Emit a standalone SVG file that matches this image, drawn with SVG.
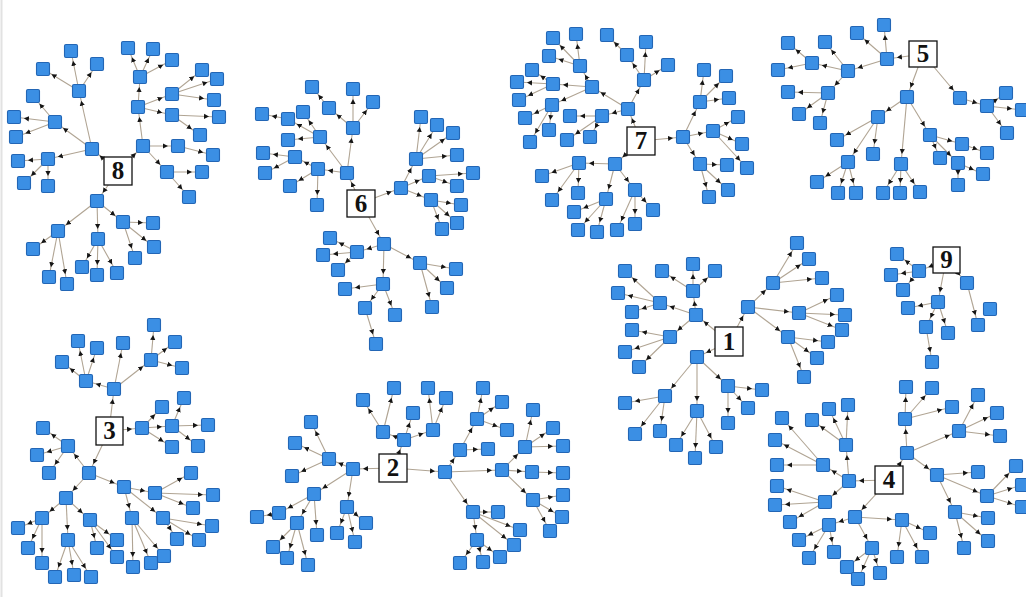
<svg xmlns="http://www.w3.org/2000/svg" xmlns:xlink="http://www.w3.org/1999/xlink" width="1026" height="597" viewBox="0 0 1026 597">
<style>
#connectors path{fill:none;stroke:#b0a493;stroke-width:1.1;marker-end:url(#ah)}
.lb{fill:#fff;stroke:#111;stroke-width:1.3}
.lt{font-family:"Liberation Serif",serif;font-weight:bold;font-size:25px;text-anchor:middle;fill:#111}
</style>
<defs>
<rect id="sq" x="-6.5" y="-6.5" width="13" height="13" rx="1.5" fill="#3b8fe4" stroke="#2366b5" stroke-width="1.1"/>
<marker id="ah" markerUnits="userSpaceOnUse" viewBox="0 -3 15 6" refX="15" refY="0" markerWidth="15" markerHeight="6" orient="auto"><path d="M0,-2.6L5,0L0,2.6z" fill="#151515"/></marker>
</defs>
<rect width="1026" height="597" fill="#fff"/>
<line x1="1.5" y1="0" x2="1.5" y2="597" stroke="#e2e2e2" stroke-width="2"/>
<g id="connectors">
<path d="M118 171L92 149"/><path d="M118 171L143 146"/><path d="M118 171L97 201"/><path d="M92 149L79 91"/><path d="M79 91L71 51"/><path d="M79 91L43 69"/><path d="M79 91L97 64"/><path d="M92 149L55 122"/><path d="M55 122L33 96"/><path d="M55 122L14 117"/><path d="M55 122L16 137"/><path d="M92 149L48 159"/><path d="M48 159L18 161"/><path d="M48 159L24 183"/><path d="M48 159L48 186"/><path d="M143 146L138 107"/><path d="M138 107L140 77"/><path d="M140 77L128 48"/><path d="M140 77L153 49"/><path d="M140 77L172 60"/><path d="M138 107L172 94"/><path d="M172 94L202 70"/><path d="M172 94L217 79"/><path d="M172 94L214 100"/><path d="M138 107L172 115"/><path d="M172 115L219 117"/><path d="M172 115L200 135"/><path d="M143 146L178 146"/><path d="M178 146L213 155"/><path d="M143 146L167 172"/><path d="M167 172L202 172"/><path d="M167 172L189 197"/><path d="M97 201L58 231"/><path d="M58 231L33 249"/><path d="M58 231L49 277"/><path d="M58 231L67 284"/><path d="M97 201L98 239"/><path d="M98 239L82 267"/><path d="M98 239L97 275"/><path d="M98 239L117 273"/><path d="M97 201L123 222"/><path d="M123 222L153 223"/><path d="M123 222L154 247"/><path d="M123 222L135 258"/>
<path d="M361 203L347 173"/><path d="M347 173L353 128"/><path d="M353 128L353 89"/><path d="M353 128L373 102"/><path d="M353 128L329 108"/><path d="M329 108L312 87"/><path d="M347 173L318 169"/><path d="M318 169L295 157"/><path d="M295 157L263 153"/><path d="M295 157L265 173"/><path d="M318 169L290 186"/><path d="M318 169L317 205"/><path d="M347 173L320 137"/><path d="M320 137L288 119"/><path d="M288 119L262 114"/><path d="M320 137L303 112"/><path d="M320 137L288 140"/><path d="M361 203L401 188"/><path d="M401 188L416 159"/><path d="M416 159L421 117"/><path d="M416 159L437 125"/><path d="M416 159L453 133"/><path d="M416 159L457 155"/><path d="M401 188L429 176"/><path d="M429 176L473 173"/><path d="M429 176L457 186"/><path d="M401 188L431 200"/><path d="M431 200L461 205"/><path d="M431 200L457 223"/><path d="M431 200L442 229"/><path d="M361 203L384 244"/><path d="M384 244L357 252"/><path d="M357 252L330 238"/><path d="M357 252L323 255"/><path d="M357 252L338 270"/><path d="M384 244L383 284"/><path d="M383 284L345 289"/><path d="M383 284L365 308"/><path d="M365 308L376 344"/><path d="M383 284L395 315"/><path d="M384 244L420 263"/><path d="M420 263L456 269"/><path d="M420 263L447 288"/><path d="M420 263L432 307"/>
<path d="M641 141L628 109"/><path d="M628 109L644 80"/><path d="M644 80L627 55"/><path d="M627 55L607 35"/><path d="M644 80L646 42"/><path d="M644 80L668 65"/><path d="M628 109L602 116"/><path d="M602 116L570 116"/><path d="M602 116L567 140"/><path d="M602 116L590 137"/><path d="M628 109L592 87"/><path d="M592 87L580 66"/><path d="M580 66L553 38"/><path d="M580 66L576 34"/><path d="M580 66L549 56"/><path d="M592 87L553 84"/><path d="M553 84L532 70"/><path d="M553 84L517 82"/><path d="M553 84L519 100"/><path d="M592 87L552 105"/><path d="M552 105L525 118"/><path d="M552 105L549 130"/><path d="M552 105L530 142"/><path d="M641 141L683 137"/><path d="M683 137L700 102"/><path d="M700 102L704 70"/><path d="M700 102L726 76"/><path d="M700 102L729 98"/><path d="M683 137L713 131"/><path d="M713 131L738 117"/><path d="M713 131L742 144"/><path d="M713 131L747 168"/><path d="M683 137L700 164"/><path d="M700 164L727 165"/><path d="M700 164L728 190"/><path d="M700 164L709 197"/><path d="M641 141L615 164"/><path d="M615 164L579 163"/><path d="M579 163L542 176"/><path d="M579 163L552 200"/><path d="M579 163L578 193"/><path d="M615 164L606 199"/><path d="M606 199L574 212"/><path d="M606 199L578 230"/><path d="M606 199L597 232"/><path d="M615 164L635 190"/><path d="M635 190L653 210"/><path d="M635 190L635 224"/><path d="M635 190L617 230"/>
<path d="M923 54L887 59"/><path d="M887 59L857 33"/><path d="M887 59L884 25"/><path d="M887 59L848 71"/><path d="M848 71L812 63"/><path d="M812 63L788 43"/><path d="M812 63L778 70"/><path d="M848 71L825 42"/><path d="M848 71L828 93"/><path d="M828 93L788 92"/><path d="M828 93L799 114"/><path d="M828 93L820 123"/><path d="M923 54L907 97"/><path d="M907 97L878 117"/><path d="M878 117L837 140"/><path d="M878 117L873 154"/><path d="M878 117L848 162"/><path d="M848 162L817 182"/><path d="M848 162L838 193"/><path d="M848 162L856 193"/><path d="M907 97L901 164"/><path d="M901 164L883 193"/><path d="M901 164L900 193"/><path d="M901 164L920 192"/><path d="M907 97L930 135"/><path d="M930 135L962 144"/><path d="M962 144L987 153"/><path d="M930 135L940 158"/><path d="M930 135L958 163"/><path d="M958 163L983 174"/><path d="M958 163L958 185"/><path d="M923 54L960 98"/><path d="M960 98L987 106"/><path d="M987 106L1006 93"/><path d="M987 106L1022 110"/><path d="M987 106L1007 133"/>
<path d="M729 342L696 315"/><path d="M696 315L693 291"/><path d="M693 291L662 271"/><path d="M693 291L693 264"/><path d="M693 291L715 271"/><path d="M696 315L660 303"/><path d="M660 303L625 271"/><path d="M660 303L618 293"/><path d="M660 303L632 312"/><path d="M696 315L670 337"/><path d="M670 337L632 330"/><path d="M670 337L625 352"/><path d="M670 337L639 367"/><path d="M729 342L748 307"/><path d="M748 307L773 283"/><path d="M773 283L797 243"/><path d="M773 283L809 259"/><path d="M773 283L822 278"/><path d="M748 307L799 313"/><path d="M799 313L837 295"/><path d="M799 313L845 315"/><path d="M799 313L842 330"/><path d="M748 307L788 337"/><path d="M788 337L828 342"/><path d="M788 337L817 358"/><path d="M788 337L804 377"/><path d="M729 342L697 357"/><path d="M697 357L665 396"/><path d="M665 396L625 403"/><path d="M665 396L635 434"/><path d="M665 396L660 431"/><path d="M697 357L697 411"/><path d="M697 411L676 445"/><path d="M697 411L695 458"/><path d="M697 411L716 447"/><path d="M697 357L728 386"/><path d="M728 386L762 390"/><path d="M728 386L748 408"/><path d="M728 386L728 423"/>
<path d="M946 260L919 271"/><path d="M919 271L897 254"/><path d="M919 271L891 275"/><path d="M919 271L903 290"/><path d="M946 260L938 302"/><path d="M938 302L908 308"/><path d="M938 302L926 327"/><path d="M926 327L932 362"/><path d="M938 302L948 333"/><path d="M946 260L967 283"/><path d="M967 283L978 325"/>
<path d="M109 431L114 389"/><path d="M114 389L86 381"/><path d="M86 381L62 362"/><path d="M86 381L78 341"/><path d="M86 381L97 348"/><path d="M114 389L123 343"/><path d="M114 389L151 360"/><path d="M151 360L154 325"/><path d="M151 360L175 342"/><path d="M151 360L182 368"/><path d="M109 431L142 428"/><path d="M142 428L162 407"/><path d="M142 428L172 447"/><path d="M142 428L172 426"/><path d="M172 426L184 398"/><path d="M172 426L208 425"/><path d="M172 426L198 446"/><path d="M109 431L89 473"/><path d="M89 473L68 446"/><path d="M68 446L43 428"/><path d="M68 446L37 455"/><path d="M68 446L49 473"/><path d="M89 473L66 498"/><path d="M66 498L42 518"/><path d="M42 518L18 528"/><path d="M42 518L28 548"/><path d="M42 518L42 563"/><path d="M66 498L68 540"/><path d="M68 540L55 577"/><path d="M68 540L74 575"/><path d="M68 540L91 577"/><path d="M66 498L90 520"/><path d="M90 520L97 548"/><path d="M90 520L117 540"/><path d="M90 520L117 557"/><path d="M89 473L124 487"/><path d="M124 487L155 493"/><path d="M155 493L191 473"/><path d="M155 493L213 495"/><path d="M155 493L193 508"/><path d="M124 487L132 518"/><path d="M132 518L133 567"/><path d="M132 518L151 563"/><path d="M132 518L164 556"/><path d="M124 487L163 518"/><path d="M163 518L177 539"/><path d="M163 518L199 540"/><path d="M163 518L212 526"/>
<path d="M393 468L353 469"/><path d="M353 469L329 459"/><path d="M329 459L311 422"/><path d="M329 459L295 443"/><path d="M329 459L292 476"/><path d="M353 469L314 494"/><path d="M314 494L279 513"/><path d="M279 513L257 517"/><path d="M314 494L297 523"/><path d="M297 523L273 547"/><path d="M297 523L287 558"/><path d="M297 523L308 565"/><path d="M314 494L317 535"/><path d="M353 469L347 507"/><path d="M347 507L337 533"/><path d="M347 507L355 542"/><path d="M347 507L366 523"/><path d="M393 468L404 440"/><path d="M404 440L383 432"/><path d="M383 432L363 400"/><path d="M383 432L394 388"/><path d="M404 440L413 413"/><path d="M404 440L433 430"/><path d="M433 430L428 388"/><path d="M433 430L446 398"/><path d="M393 468L445 472"/><path d="M445 472L460 450"/><path d="M460 450L477 419"/><path d="M477 419L483 388"/><path d="M477 419L502 402"/><path d="M477 419L507 430"/><path d="M460 450L488 449"/><path d="M445 472L502 470"/><path d="M502 470L525 447"/><path d="M525 447L533 410"/><path d="M525 447L553 428"/><path d="M525 447L563 446"/><path d="M502 470L532 472"/><path d="M532 472L563 473"/><path d="M502 470L533 500"/><path d="M533 500L563 495"/><path d="M533 500L562 517"/><path d="M533 500L550 531"/><path d="M445 472L473 512"/><path d="M473 512L498 512"/><path d="M473 512L520 530"/><path d="M473 512L514 545"/><path d="M473 512L477 540"/><path d="M477 540L460 563"/><path d="M477 540L483 562"/><path d="M477 540L500 557"/>
<path d="M889 480L907 453"/><path d="M907 453L905 419"/><path d="M905 419L906 387"/><path d="M905 419L932 388"/><path d="M905 419L952 407"/><path d="M907 453L959 431"/><path d="M959 431L978 395"/><path d="M959 431L997 413"/><path d="M959 431L1000 436"/><path d="M907 453L937 475"/><path d="M937 475L978 472"/><path d="M937 475L987 496"/><path d="M987 496L1016 466"/><path d="M987 496L1022 485"/><path d="M987 496L1022 507"/><path d="M937 475L955 512"/><path d="M955 512L988 518"/><path d="M955 512L988 541"/><path d="M955 512L964 548"/><path d="M889 480L849 481"/><path d="M849 481L846 445"/><path d="M846 445L829 409"/><path d="M846 445L848 405"/><path d="M846 445L812 420"/><path d="M849 481L823 465"/><path d="M823 465L782 418"/><path d="M823 465L775 440"/><path d="M823 465L777 465"/><path d="M849 481L825 502"/><path d="M825 502L777 486"/><path d="M825 502L775 505"/><path d="M825 502L790 522"/><path d="M889 480L855 517"/><path d="M855 517L829 525"/><path d="M829 525L799 540"/><path d="M829 525L809 558"/><path d="M829 525L834 552"/><path d="M855 517L872 548"/><path d="M872 548L847 567"/><path d="M872 548L858 579"/><path d="M872 548L880 573"/><path d="M855 517L902 520"/><path d="M902 520L930 533"/><path d="M902 520L922 557"/><path d="M902 520L897 557"/>
</g>
<g id="cluster8">
<g id="n8_01"><use href="#sq" x="92" y="149"/></g><g id="n8_02"><use href="#sq" x="143" y="146"/></g><g id="n8_03"><use href="#sq" x="97" y="201"/></g><g id="n8_04"><use href="#sq" x="79" y="91"/></g><g id="n8_05"><use href="#sq" x="71" y="51"/></g><g id="n8_06"><use href="#sq" x="43" y="69"/></g><g id="n8_07"><use href="#sq" x="97" y="64"/></g><g id="n8_08"><use href="#sq" x="55" y="122"/></g><g id="n8_09"><use href="#sq" x="33" y="96"/></g><g id="n8_10"><use href="#sq" x="14" y="117"/></g><g id="n8_11"><use href="#sq" x="16" y="137"/></g><g id="n8_12"><use href="#sq" x="48" y="159"/></g><g id="n8_13"><use href="#sq" x="18" y="161"/></g><g id="n8_14"><use href="#sq" x="24" y="183"/></g><g id="n8_15"><use href="#sq" x="48" y="186"/></g><g id="n8_16"><use href="#sq" x="138" y="107"/></g><g id="n8_17"><use href="#sq" x="140" y="77"/></g><g id="n8_18"><use href="#sq" x="128" y="48"/></g><g id="n8_19"><use href="#sq" x="153" y="49"/></g><g id="n8_20"><use href="#sq" x="172" y="60"/></g><g id="n8_21"><use href="#sq" x="172" y="94"/></g><g id="n8_22"><use href="#sq" x="202" y="70"/></g><g id="n8_23"><use href="#sq" x="217" y="79"/></g><g id="n8_24"><use href="#sq" x="214" y="100"/></g><g id="n8_25"><use href="#sq" x="172" y="115"/></g><g id="n8_26"><use href="#sq" x="219" y="117"/></g><g id="n8_27"><use href="#sq" x="200" y="135"/></g><g id="n8_28"><use href="#sq" x="178" y="146"/></g><g id="n8_29"><use href="#sq" x="213" y="155"/></g><g id="n8_30"><use href="#sq" x="167" y="172"/></g><g id="n8_31"><use href="#sq" x="202" y="172"/></g><g id="n8_32"><use href="#sq" x="189" y="197"/></g><g id="n8_33"><use href="#sq" x="58" y="231"/></g><g id="n8_34"><use href="#sq" x="33" y="249"/></g><g id="n8_35"><use href="#sq" x="49" y="277"/></g><g id="n8_36"><use href="#sq" x="67" y="284"/></g><g id="n8_37"><use href="#sq" x="98" y="239"/></g><g id="n8_38"><use href="#sq" x="82" y="267"/></g><g id="n8_39"><use href="#sq" x="97" y="275"/></g><g id="n8_40"><use href="#sq" x="117" y="273"/></g><g id="n8_41"><use href="#sq" x="123" y="222"/></g><g id="n8_42"><use href="#sq" x="153" y="223"/></g><g id="n8_43"><use href="#sq" x="154" y="247"/></g><g id="n8_44"><use href="#sq" x="135" y="258"/></g>
<g id="root8"><rect class="lb" x="104" y="157" width="28" height="28"/><text class="lt" x="118" y="179">8</text></g>
</g>
<g id="cluster6">
<g id="n6_01"><use href="#sq" x="347" y="173"/></g><g id="n6_02"><use href="#sq" x="353" y="128"/></g><g id="n6_03"><use href="#sq" x="353" y="89"/></g><g id="n6_04"><use href="#sq" x="373" y="102"/></g><g id="n6_05"><use href="#sq" x="329" y="108"/></g><g id="n6_06"><use href="#sq" x="312" y="87"/></g><g id="n6_07"><use href="#sq" x="318" y="169"/></g><g id="n6_08"><use href="#sq" x="295" y="157"/></g><g id="n6_09"><use href="#sq" x="263" y="153"/></g><g id="n6_10"><use href="#sq" x="265" y="173"/></g><g id="n6_11"><use href="#sq" x="290" y="186"/></g><g id="n6_12"><use href="#sq" x="317" y="205"/></g><g id="n6_13"><use href="#sq" x="320" y="137"/></g><g id="n6_14"><use href="#sq" x="288" y="119"/></g><g id="n6_15"><use href="#sq" x="262" y="114"/></g><g id="n6_16"><use href="#sq" x="303" y="112"/></g><g id="n6_17"><use href="#sq" x="288" y="140"/></g><g id="n6_18"><use href="#sq" x="401" y="188"/></g><g id="n6_19"><use href="#sq" x="416" y="159"/></g><g id="n6_20"><use href="#sq" x="421" y="117"/></g><g id="n6_21"><use href="#sq" x="437" y="125"/></g><g id="n6_22"><use href="#sq" x="453" y="133"/></g><g id="n6_23"><use href="#sq" x="457" y="155"/></g><g id="n6_24"><use href="#sq" x="429" y="176"/></g><g id="n6_25"><use href="#sq" x="473" y="173"/></g><g id="n6_26"><use href="#sq" x="457" y="186"/></g><g id="n6_27"><use href="#sq" x="431" y="200"/></g><g id="n6_28"><use href="#sq" x="461" y="205"/></g><g id="n6_29"><use href="#sq" x="457" y="223"/></g><g id="n6_30"><use href="#sq" x="442" y="229"/></g><g id="n6_31"><use href="#sq" x="384" y="244"/></g><g id="n6_32"><use href="#sq" x="357" y="252"/></g><g id="n6_33"><use href="#sq" x="330" y="238"/></g><g id="n6_34"><use href="#sq" x="323" y="255"/></g><g id="n6_35"><use href="#sq" x="338" y="270"/></g><g id="n6_36"><use href="#sq" x="383" y="284"/></g><g id="n6_37"><use href="#sq" x="345" y="289"/></g><g id="n6_38"><use href="#sq" x="365" y="308"/></g><g id="n6_39"><use href="#sq" x="376" y="344"/></g><g id="n6_40"><use href="#sq" x="395" y="315"/></g><g id="n6_41"><use href="#sq" x="420" y="263"/></g><g id="n6_42"><use href="#sq" x="456" y="269"/></g><g id="n6_43"><use href="#sq" x="447" y="288"/></g><g id="n6_44"><use href="#sq" x="432" y="307"/></g>
<g id="root6"><rect class="lb" x="347" y="190" width="28" height="27"/><text class="lt" x="361" y="212">6</text></g>
</g>
<g id="cluster7">
<g id="n7_01"><use href="#sq" x="628" y="109"/></g><g id="n7_02"><use href="#sq" x="644" y="80"/></g><g id="n7_03"><use href="#sq" x="627" y="55"/></g><g id="n7_04"><use href="#sq" x="607" y="35"/></g><g id="n7_05"><use href="#sq" x="646" y="42"/></g><g id="n7_06"><use href="#sq" x="668" y="65"/></g><g id="n7_07"><use href="#sq" x="602" y="116"/></g><g id="n7_08"><use href="#sq" x="570" y="116"/></g><g id="n7_09"><use href="#sq" x="567" y="140"/></g><g id="n7_10"><use href="#sq" x="590" y="137"/></g><g id="n7_11"><use href="#sq" x="592" y="87"/></g><g id="n7_12"><use href="#sq" x="580" y="66"/></g><g id="n7_13"><use href="#sq" x="553" y="38"/></g><g id="n7_14"><use href="#sq" x="576" y="34"/></g><g id="n7_15"><use href="#sq" x="549" y="56"/></g><g id="n7_16"><use href="#sq" x="553" y="84"/></g><g id="n7_17"><use href="#sq" x="532" y="70"/></g><g id="n7_18"><use href="#sq" x="517" y="82"/></g><g id="n7_19"><use href="#sq" x="519" y="100"/></g><g id="n7_20"><use href="#sq" x="552" y="105"/></g><g id="n7_21"><use href="#sq" x="525" y="118"/></g><g id="n7_22"><use href="#sq" x="549" y="130"/></g><g id="n7_23"><use href="#sq" x="530" y="142"/></g><g id="n7_24"><use href="#sq" x="683" y="137"/></g><g id="n7_25"><use href="#sq" x="700" y="102"/></g><g id="n7_26"><use href="#sq" x="704" y="70"/></g><g id="n7_27"><use href="#sq" x="726" y="76"/></g><g id="n7_28"><use href="#sq" x="729" y="98"/></g><g id="n7_29"><use href="#sq" x="713" y="131"/></g><g id="n7_30"><use href="#sq" x="738" y="117"/></g><g id="n7_31"><use href="#sq" x="742" y="144"/></g><g id="n7_32"><use href="#sq" x="747" y="168"/></g><g id="n7_33"><use href="#sq" x="700" y="164"/></g><g id="n7_34"><use href="#sq" x="727" y="165"/></g><g id="n7_35"><use href="#sq" x="728" y="190"/></g><g id="n7_36"><use href="#sq" x="709" y="197"/></g><g id="n7_37"><use href="#sq" x="615" y="164"/></g><g id="n7_38"><use href="#sq" x="579" y="163"/></g><g id="n7_39"><use href="#sq" x="542" y="176"/></g><g id="n7_40"><use href="#sq" x="552" y="200"/></g><g id="n7_41"><use href="#sq" x="578" y="193"/></g><g id="n7_42"><use href="#sq" x="606" y="199"/></g><g id="n7_43"><use href="#sq" x="574" y="212"/></g><g id="n7_44"><use href="#sq" x="578" y="230"/></g><g id="n7_45"><use href="#sq" x="597" y="232"/></g><g id="n7_46"><use href="#sq" x="635" y="190"/></g><g id="n7_47"><use href="#sq" x="653" y="210"/></g><g id="n7_48"><use href="#sq" x="635" y="224"/></g><g id="n7_49"><use href="#sq" x="617" y="230"/></g>
<g id="root7"><rect class="lb" x="627" y="127" width="28" height="28"/><text class="lt" x="641" y="149">7</text></g>
</g>
<g id="cluster5">
<g id="n5_01"><use href="#sq" x="887" y="59"/></g><g id="n5_02"><use href="#sq" x="857" y="33"/></g><g id="n5_03"><use href="#sq" x="884" y="25"/></g><g id="n5_04"><use href="#sq" x="848" y="71"/></g><g id="n5_05"><use href="#sq" x="812" y="63"/></g><g id="n5_06"><use href="#sq" x="788" y="43"/></g><g id="n5_07"><use href="#sq" x="778" y="70"/></g><g id="n5_08"><use href="#sq" x="825" y="42"/></g><g id="n5_09"><use href="#sq" x="828" y="93"/></g><g id="n5_10"><use href="#sq" x="788" y="92"/></g><g id="n5_11"><use href="#sq" x="799" y="114"/></g><g id="n5_12"><use href="#sq" x="820" y="123"/></g><g id="n5_13"><use href="#sq" x="907" y="97"/></g><g id="n5_14"><use href="#sq" x="878" y="117"/></g><g id="n5_15"><use href="#sq" x="837" y="140"/></g><g id="n5_16"><use href="#sq" x="873" y="154"/></g><g id="n5_17"><use href="#sq" x="848" y="162"/></g><g id="n5_18"><use href="#sq" x="817" y="182"/></g><g id="n5_19"><use href="#sq" x="838" y="193"/></g><g id="n5_20"><use href="#sq" x="856" y="193"/></g><g id="n5_21"><use href="#sq" x="901" y="164"/></g><g id="n5_22"><use href="#sq" x="883" y="193"/></g><g id="n5_23"><use href="#sq" x="900" y="193"/></g><g id="n5_24"><use href="#sq" x="920" y="192"/></g><g id="n5_25"><use href="#sq" x="930" y="135"/></g><g id="n5_26"><use href="#sq" x="962" y="144"/></g><g id="n5_27"><use href="#sq" x="987" y="153"/></g><g id="n5_28"><use href="#sq" x="940" y="158"/></g><g id="n5_29"><use href="#sq" x="958" y="163"/></g><g id="n5_30"><use href="#sq" x="983" y="174"/></g><g id="n5_31"><use href="#sq" x="958" y="185"/></g><g id="n5_32"><use href="#sq" x="960" y="98"/></g><g id="n5_33"><use href="#sq" x="987" y="106"/></g><g id="n5_34"><use href="#sq" x="1006" y="93"/></g><g id="n5_35"><use href="#sq" x="1022" y="110"/></g><g id="n5_36"><use href="#sq" x="1007" y="133"/></g>
<g id="root5"><rect class="lb" x="909" y="41" width="28" height="26"/><text class="lt" x="923" y="62">5</text></g>
</g>
<g id="cluster1">
<g id="n1_01"><use href="#sq" x="696" y="315"/></g><g id="n1_02"><use href="#sq" x="693" y="291"/></g><g id="n1_03"><use href="#sq" x="662" y="271"/></g><g id="n1_04"><use href="#sq" x="693" y="264"/></g><g id="n1_05"><use href="#sq" x="715" y="271"/></g><g id="n1_06"><use href="#sq" x="660" y="303"/></g><g id="n1_07"><use href="#sq" x="625" y="271"/></g><g id="n1_08"><use href="#sq" x="618" y="293"/></g><g id="n1_09"><use href="#sq" x="632" y="312"/></g><g id="n1_10"><use href="#sq" x="670" y="337"/></g><g id="n1_11"><use href="#sq" x="632" y="330"/></g><g id="n1_12"><use href="#sq" x="625" y="352"/></g><g id="n1_13"><use href="#sq" x="639" y="367"/></g><g id="n1_14"><use href="#sq" x="748" y="307"/></g><g id="n1_15"><use href="#sq" x="773" y="283"/></g><g id="n1_16"><use href="#sq" x="797" y="243"/></g><g id="n1_17"><use href="#sq" x="809" y="259"/></g><g id="n1_18"><use href="#sq" x="822" y="278"/></g><g id="n1_19"><use href="#sq" x="799" y="313"/></g><g id="n1_20"><use href="#sq" x="837" y="295"/></g><g id="n1_21"><use href="#sq" x="845" y="315"/></g><g id="n1_22"><use href="#sq" x="842" y="330"/></g><g id="n1_23"><use href="#sq" x="788" y="337"/></g><g id="n1_24"><use href="#sq" x="828" y="342"/></g><g id="n1_25"><use href="#sq" x="817" y="358"/></g><g id="n1_26"><use href="#sq" x="804" y="377"/></g><g id="n1_27"><use href="#sq" x="697" y="357"/></g><g id="n1_28"><use href="#sq" x="665" y="396"/></g><g id="n1_29"><use href="#sq" x="625" y="403"/></g><g id="n1_30"><use href="#sq" x="635" y="434"/></g><g id="n1_31"><use href="#sq" x="660" y="431"/></g><g id="n1_32"><use href="#sq" x="697" y="411"/></g><g id="n1_33"><use href="#sq" x="676" y="445"/></g><g id="n1_34"><use href="#sq" x="695" y="458"/></g><g id="n1_35"><use href="#sq" x="716" y="447"/></g><g id="n1_36"><use href="#sq" x="728" y="386"/></g><g id="n1_37"><use href="#sq" x="762" y="390"/></g><g id="n1_38"><use href="#sq" x="748" y="408"/></g><g id="n1_39"><use href="#sq" x="728" y="423"/></g>
<g id="root1"><rect class="lb" x="715" y="327" width="28" height="29"/><text class="lt" x="729" y="350">1</text></g>
</g>
<g id="cluster9">
<g id="n9_01"><use href="#sq" x="919" y="271"/></g><g id="n9_02"><use href="#sq" x="897" y="254"/></g><g id="n9_03"><use href="#sq" x="891" y="275"/></g><g id="n9_04"><use href="#sq" x="903" y="290"/></g><g id="n9_05"><use href="#sq" x="938" y="302"/></g><g id="n9_06"><use href="#sq" x="908" y="308"/></g><g id="n9_07"><use href="#sq" x="926" y="327"/></g><g id="n9_08"><use href="#sq" x="932" y="362"/></g><g id="n9_09"><use href="#sq" x="948" y="333"/></g><g id="n9_10"><use href="#sq" x="967" y="283"/></g><g id="n9_11"><use href="#sq" x="978" y="325"/></g><g id="n9_12"><use href="#sq" x="990" y="309"/></g>
<g id="root9"><rect class="lb" x="933" y="247" width="27" height="26"/><text class="lt" x="946.5" y="268">9</text></g>
</g>
<g id="cluster3">
<g id="n3_01"><use href="#sq" x="114" y="389"/></g><g id="n3_02"><use href="#sq" x="86" y="381"/></g><g id="n3_03"><use href="#sq" x="62" y="362"/></g><g id="n3_04"><use href="#sq" x="78" y="341"/></g><g id="n3_05"><use href="#sq" x="97" y="348"/></g><g id="n3_06"><use href="#sq" x="123" y="343"/></g><g id="n3_07"><use href="#sq" x="151" y="360"/></g><g id="n3_08"><use href="#sq" x="154" y="325"/></g><g id="n3_09"><use href="#sq" x="175" y="342"/></g><g id="n3_10"><use href="#sq" x="182" y="368"/></g><g id="n3_11"><use href="#sq" x="142" y="428"/></g><g id="n3_12"><use href="#sq" x="162" y="407"/></g><g id="n3_13"><use href="#sq" x="172" y="447"/></g><g id="n3_14"><use href="#sq" x="172" y="426"/></g><g id="n3_15"><use href="#sq" x="184" y="398"/></g><g id="n3_16"><use href="#sq" x="208" y="425"/></g><g id="n3_17"><use href="#sq" x="198" y="446"/></g><g id="n3_18"><use href="#sq" x="89" y="473"/></g><g id="n3_19"><use href="#sq" x="68" y="446"/></g><g id="n3_20"><use href="#sq" x="43" y="428"/></g><g id="n3_21"><use href="#sq" x="37" y="455"/></g><g id="n3_22"><use href="#sq" x="49" y="473"/></g><g id="n3_23"><use href="#sq" x="66" y="498"/></g><g id="n3_24"><use href="#sq" x="42" y="518"/></g><g id="n3_25"><use href="#sq" x="18" y="528"/></g><g id="n3_26"><use href="#sq" x="28" y="548"/></g><g id="n3_27"><use href="#sq" x="42" y="563"/></g><g id="n3_28"><use href="#sq" x="68" y="540"/></g><g id="n3_29"><use href="#sq" x="55" y="577"/></g><g id="n3_30"><use href="#sq" x="74" y="575"/></g><g id="n3_31"><use href="#sq" x="91" y="577"/></g><g id="n3_32"><use href="#sq" x="90" y="520"/></g><g id="n3_33"><use href="#sq" x="97" y="548"/></g><g id="n3_34"><use href="#sq" x="117" y="540"/></g><g id="n3_35"><use href="#sq" x="117" y="557"/></g><g id="n3_36"><use href="#sq" x="124" y="487"/></g><g id="n3_37"><use href="#sq" x="155" y="493"/></g><g id="n3_38"><use href="#sq" x="191" y="473"/></g><g id="n3_39"><use href="#sq" x="213" y="495"/></g><g id="n3_40"><use href="#sq" x="193" y="508"/></g><g id="n3_41"><use href="#sq" x="132" y="518"/></g><g id="n3_42"><use href="#sq" x="133" y="567"/></g><g id="n3_43"><use href="#sq" x="151" y="563"/></g><g id="n3_44"><use href="#sq" x="164" y="556"/></g><g id="n3_45"><use href="#sq" x="163" y="518"/></g><g id="n3_46"><use href="#sq" x="177" y="539"/></g><g id="n3_47"><use href="#sq" x="199" y="540"/></g><g id="n3_48"><use href="#sq" x="212" y="526"/></g>
<g id="root3"><rect class="lb" x="96" y="417" width="27" height="28"/><text class="lt" x="109.5" y="439">3</text></g>
</g>
<g id="cluster2">
<g id="n2_01"><use href="#sq" x="353" y="469"/></g><g id="n2_02"><use href="#sq" x="329" y="459"/></g><g id="n2_03"><use href="#sq" x="311" y="422"/></g><g id="n2_04"><use href="#sq" x="295" y="443"/></g><g id="n2_05"><use href="#sq" x="292" y="476"/></g><g id="n2_06"><use href="#sq" x="314" y="494"/></g><g id="n2_07"><use href="#sq" x="279" y="513"/></g><g id="n2_08"><use href="#sq" x="257" y="517"/></g><g id="n2_09"><use href="#sq" x="297" y="523"/></g><g id="n2_10"><use href="#sq" x="273" y="547"/></g><g id="n2_11"><use href="#sq" x="287" y="558"/></g><g id="n2_12"><use href="#sq" x="308" y="565"/></g><g id="n2_13"><use href="#sq" x="317" y="535"/></g><g id="n2_14"><use href="#sq" x="347" y="507"/></g><g id="n2_15"><use href="#sq" x="337" y="533"/></g><g id="n2_16"><use href="#sq" x="355" y="542"/></g><g id="n2_17"><use href="#sq" x="366" y="523"/></g><g id="n2_18"><use href="#sq" x="404" y="440"/></g><g id="n2_19"><use href="#sq" x="383" y="432"/></g><g id="n2_20"><use href="#sq" x="363" y="400"/></g><g id="n2_21"><use href="#sq" x="394" y="388"/></g><g id="n2_22"><use href="#sq" x="413" y="413"/></g><g id="n2_23"><use href="#sq" x="433" y="430"/></g><g id="n2_24"><use href="#sq" x="428" y="388"/></g><g id="n2_25"><use href="#sq" x="446" y="398"/></g><g id="n2_26"><use href="#sq" x="445" y="472"/></g><g id="n2_27"><use href="#sq" x="460" y="450"/></g><g id="n2_28"><use href="#sq" x="477" y="419"/></g><g id="n2_29"><use href="#sq" x="483" y="388"/></g><g id="n2_30"><use href="#sq" x="502" y="402"/></g><g id="n2_31"><use href="#sq" x="507" y="430"/></g><g id="n2_32"><use href="#sq" x="488" y="449"/></g><g id="n2_33"><use href="#sq" x="502" y="470"/></g><g id="n2_34"><use href="#sq" x="525" y="447"/></g><g id="n2_35"><use href="#sq" x="533" y="410"/></g><g id="n2_36"><use href="#sq" x="553" y="428"/></g><g id="n2_37"><use href="#sq" x="563" y="446"/></g><g id="n2_38"><use href="#sq" x="532" y="472"/></g><g id="n2_39"><use href="#sq" x="563" y="473"/></g><g id="n2_40"><use href="#sq" x="533" y="500"/></g><g id="n2_41"><use href="#sq" x="563" y="495"/></g><g id="n2_42"><use href="#sq" x="562" y="517"/></g><g id="n2_43"><use href="#sq" x="550" y="531"/></g><g id="n2_44"><use href="#sq" x="473" y="512"/></g><g id="n2_45"><use href="#sq" x="498" y="512"/></g><g id="n2_46"><use href="#sq" x="520" y="530"/></g><g id="n2_47"><use href="#sq" x="514" y="545"/></g><g id="n2_48"><use href="#sq" x="477" y="540"/></g><g id="n2_49"><use href="#sq" x="460" y="563"/></g><g id="n2_50"><use href="#sq" x="483" y="562"/></g><g id="n2_51"><use href="#sq" x="500" y="557"/></g>
<g id="root2"><rect class="lb" x="379" y="454" width="28" height="28"/><text class="lt" x="393" y="476">2</text></g>
</g>
<g id="cluster4">
<g id="n4_01"><use href="#sq" x="907" y="453"/></g><g id="n4_02"><use href="#sq" x="905" y="419"/></g><g id="n4_03"><use href="#sq" x="906" y="387"/></g><g id="n4_04"><use href="#sq" x="932" y="388"/></g><g id="n4_05"><use href="#sq" x="952" y="407"/></g><g id="n4_06"><use href="#sq" x="959" y="431"/></g><g id="n4_07"><use href="#sq" x="978" y="395"/></g><g id="n4_08"><use href="#sq" x="997" y="413"/></g><g id="n4_09"><use href="#sq" x="1000" y="436"/></g><g id="n4_10"><use href="#sq" x="937" y="475"/></g><g id="n4_11"><use href="#sq" x="978" y="472"/></g><g id="n4_12"><use href="#sq" x="987" y="496"/></g><g id="n4_13"><use href="#sq" x="1016" y="466"/></g><g id="n4_14"><use href="#sq" x="1022" y="485"/></g><g id="n4_15"><use href="#sq" x="1022" y="507"/></g><g id="n4_16"><use href="#sq" x="955" y="512"/></g><g id="n4_17"><use href="#sq" x="988" y="518"/></g><g id="n4_18"><use href="#sq" x="988" y="541"/></g><g id="n4_19"><use href="#sq" x="964" y="548"/></g><g id="n4_20"><use href="#sq" x="849" y="481"/></g><g id="n4_21"><use href="#sq" x="846" y="445"/></g><g id="n4_22"><use href="#sq" x="829" y="409"/></g><g id="n4_23"><use href="#sq" x="848" y="405"/></g><g id="n4_24"><use href="#sq" x="812" y="420"/></g><g id="n4_25"><use href="#sq" x="823" y="465"/></g><g id="n4_26"><use href="#sq" x="782" y="418"/></g><g id="n4_27"><use href="#sq" x="775" y="440"/></g><g id="n4_28"><use href="#sq" x="777" y="465"/></g><g id="n4_29"><use href="#sq" x="825" y="502"/></g><g id="n4_30"><use href="#sq" x="777" y="486"/></g><g id="n4_31"><use href="#sq" x="775" y="505"/></g><g id="n4_32"><use href="#sq" x="790" y="522"/></g><g id="n4_33"><use href="#sq" x="855" y="517"/></g><g id="n4_34"><use href="#sq" x="829" y="525"/></g><g id="n4_35"><use href="#sq" x="799" y="540"/></g><g id="n4_36"><use href="#sq" x="809" y="558"/></g><g id="n4_37"><use href="#sq" x="834" y="552"/></g><g id="n4_38"><use href="#sq" x="872" y="548"/></g><g id="n4_39"><use href="#sq" x="847" y="567"/></g><g id="n4_40"><use href="#sq" x="858" y="579"/></g><g id="n4_41"><use href="#sq" x="880" y="573"/></g><g id="n4_42"><use href="#sq" x="902" y="520"/></g><g id="n4_43"><use href="#sq" x="930" y="533"/></g><g id="n4_44"><use href="#sq" x="922" y="557"/></g><g id="n4_45"><use href="#sq" x="897" y="557"/></g>
<g id="root4"><rect class="lb" x="875" y="466" width="28" height="28"/><text class="lt" x="889" y="488">4</text></g>
</g>
</svg>
